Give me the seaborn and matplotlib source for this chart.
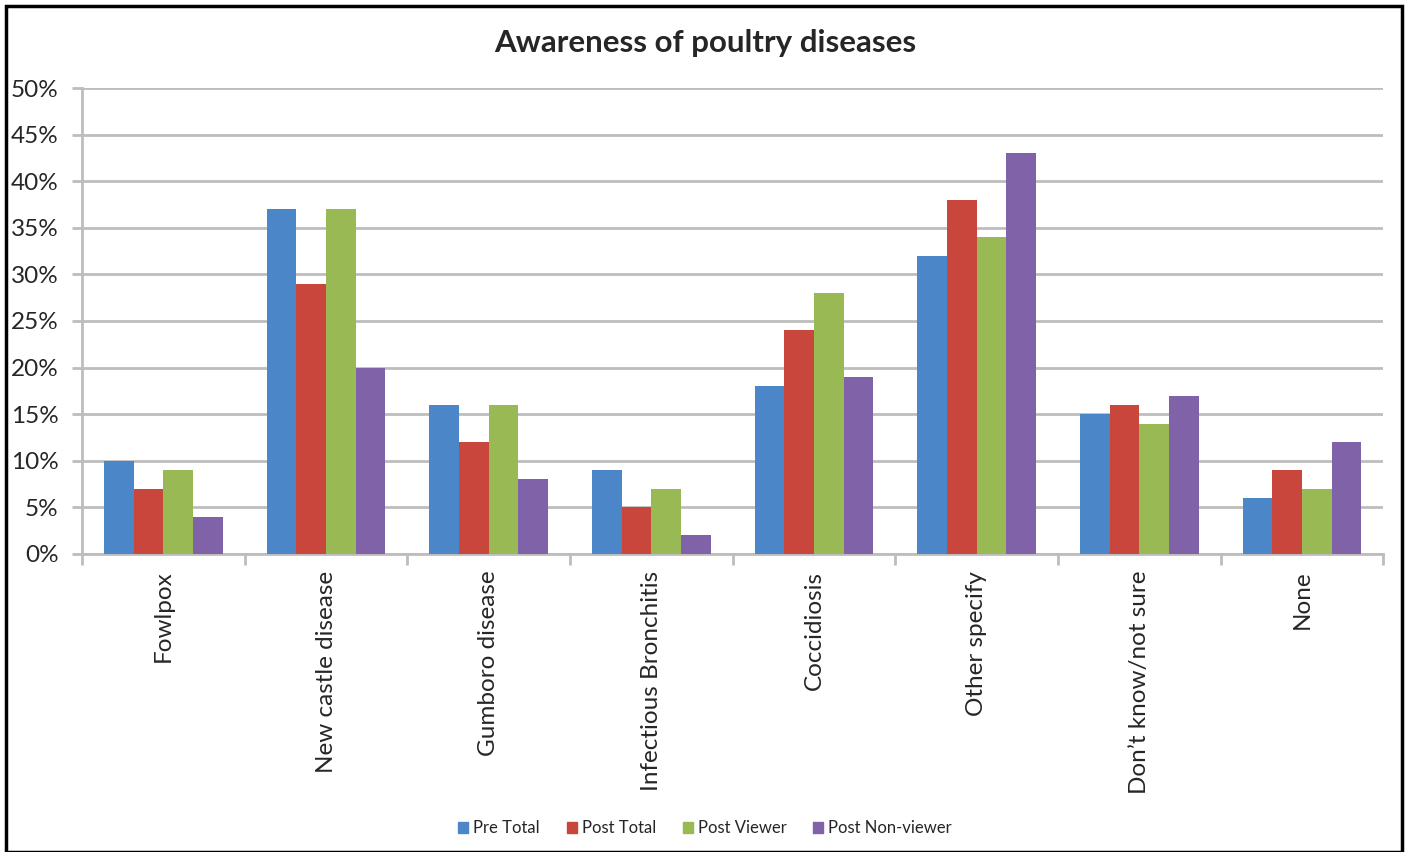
import matplotlib
matplotlib.use("Agg")
import matplotlib.pyplot as plt
import matplotlib.patches as mpatches
from matplotlib.ticker import FixedLocator, PercentFormatter
import seaborn as sns
import pandas as pd

categories = ["Fowlpox", "New castle disease", "Gumboro disease", "Infectious Bronchitis",
              "Coccidiosis", "Other specify", "Don\u2019t know/not sure", "None"]
pre_total = [10, 37, 16, 9, 18, 32, 15, 6]
post_total = [7, 29, 12, 5, 24, 38, 16, 9]
post_viewer = [9, 37, 16, 7, 28, 34, 14, 7]
post_nonviewer = [4, 20, 8, 2, 19, 43, 17, 12]
series = ["Pre Total", "Post Total", "Post Viewer", "Post Non-viewer"]
colors = ["#4A86C8", "#C9463D", "#98B954", "#7F62A8"]

rows = []
for name, vals in zip(series, [pre_total, post_total, post_viewer, post_nonviewer]):
    for cat, v in zip(categories, vals):
        rows.append({"category": cat, "series": name, "value": v})
df = pd.DataFrame(rows)

sns.set_theme(style="white")
plt.rcParams["font.family"] = ["Lato", "DejaVu Sans"]

fig = plt.figure(figsize=(14.1, 8.52), dpi=100)
ax = fig.add_axes([0.0582, 0.3498, 0.9228, 0.5469])

sns.barplot(data=df, x="category", y="value", hue="series", order=categories,
            hue_order=series, palette=colors, width=0.73, gap=0, saturation=1,
            edgecolor="none", linewidth=0, ax=ax, legend=False, zorder=3)

grid_c = "#BDBDBD"
ax.set_ylim(0, 50)
ax.set_xlim(-0.5, len(categories) - 0.5)
ax.set_yticks(range(0, 51, 5))
ax.yaxis.set_major_formatter(PercentFormatter(decimals=0))
ax.yaxis.grid(True, color=grid_c, linewidth=2, zorder=0)
ax.set_axisbelow(True)
for s in ["top", "right"]:
    ax.spines[s].set_visible(False)
for s in ["left", "bottom"]:
    ax.spines[s].set_color(grid_c)
    ax.spines[s].set_linewidth(2)

ax.tick_params(axis="y", which="major", length=7, width=2, color=grid_c,
               labelsize=17.5, pad=10, left=True)
ax.tick_params(axis="x", which="major", length=0, labelsize=17.5, pad=12)
ax.xaxis.set_minor_locator(FixedLocator([i - 0.5 for i in range(len(categories) + 1)]))
ax.tick_params(axis="x", which="minor", length=8, width=2, color=grid_c, bottom=True)
plt.setp(ax.get_xticklabels(), rotation=90)
ax.set_xlabel("")
ax.set_ylabel("")

fig.text(0.5, 0.949, "Awareness of poultry diseases", ha="center", va="center",
         fontsize=22.5, fontweight="bold")

handles = [mpatches.Patch(color=c, label=s) for c, s in zip(colors, series)]
fig.legend(handles=handles, loc="center", bbox_to_anchor=(0.5, 0.028), ncol=4,
           frameon=False, fontsize=12, handlelength=0.6, handleheight=0.6,
           handletextpad=0.3, columnspacing=1.6)

fig.patches.append(mpatches.Rectangle((0.004, 0.0), 0.99, 0.993, transform=fig.transFigure,
                                      fill=False, edgecolor="black", linewidth=2.5))

fig.savefig("out.png", dpi=100)
